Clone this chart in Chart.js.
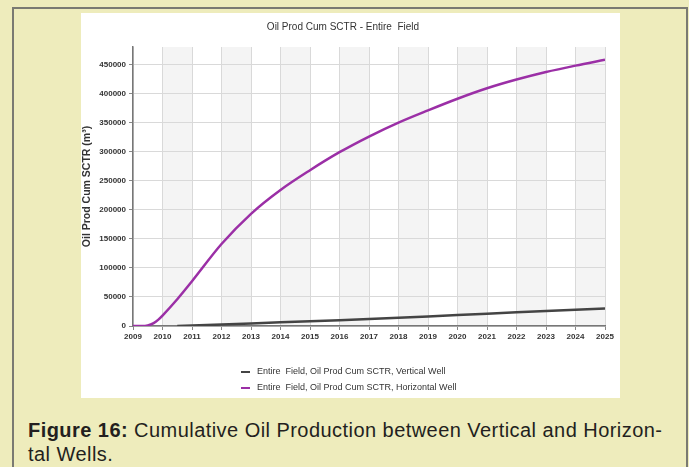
<!DOCTYPE html>
<html>
<head>
<meta charset="utf-8">
<script src="https://cdn.jsdelivr.net/npm/chart.js@4"></script>
<style>
  html, body { margin: 0; padding: 0; }
  body { width: 689px; height: 467px; background: #eeecbc; position: relative; overflow: hidden; font-family: "Liberation Sans", Arial, sans-serif; }
  #frame { position: absolute; left: 12px; top: 7px; width: 672px; height: 480px; border: 2px solid #7a7a72; border-bottom: none; }
  #panel { position: absolute; left: 81px; top: 13px; width: 539px; height: 385px; background: #fff; }
  #legend { position: absolute; left: 160px; top: 350px; font-family: "Liberation Sans Narrow", "Liberation Sans", Arial, sans-serif; font-size: 9px; color: #333; }
  #legend div { height: 16px; line-height: 16px; white-space: nowrap; }
  #legend span { display: inline-block; width: 9px; height: 2px; vertical-align: middle; margin-right: 7px; }
  #caption { position: absolute; left: 28px; top: 418px; font-size: 20px; line-height: 24px; letter-spacing: 0.45px; color: #231f20; white-space: nowrap; }
</style>
</head>
<body>
<div id="frame"></div>
<div id="panel">
  <canvas id="myChart"></canvas>
  <div id="legend">
    <div><span style="background:#444"></span>Entire&nbsp; Field, Oil Prod Cum SCTR, Vertical Well</div>
    <div><span style="background:#9b2fa6"></span>Entire&nbsp; Field, Oil Prod Cum SCTR, Horizontal Well</div>
  </div>
</div>
<div id="caption"><b>Figure 16:</b> Cumulative Oil Production between Vertical and Horizon-<br>tal Wells.</div>
<script>
const years = [2009, 2009.3, 2009.5, 2009.7, 2009.85, 2010, 2010.5, 2011, 2012, 2013, 2014, 2015, 2016, 2017, 2018, 2019, 2020, 2021, 2022, 2023, 2024, 2025];
const horizontalWell = [0, 0, 1000, 5000, 10500, 18000, 46000, 77000, 141000, 193000, 234000, 268000, 299000, 326000, 350000, 371000, 391000, 409000, 424000, 437000, 448000, 458000];
const verticalYears = [2010.5, 2011, 2012, 2013, 2014, 2015, 2016, 2017, 2018, 2019, 2020, 2021, 2022, 2023, 2024, 2025];
const verticalWell = [0, 800, 2500, 4500, 6500, 8300, 10000, 12000, 14000, 16500, 19000, 21000, 23500, 26000, 28000, 30000];
const yTicks = [0, 50000, 100000, 150000, 200000, 250000, 300000, 350000, 400000, 450000];

const labels = ["Entire  Field, Oil Prod Cum SCTR, Vertical Well", "Entire  Field, Oil Prod Cum SCTR, Horizontal Well"];

const data = {
  datasets: [
    {
      label: labels[0],
      borderColor: "#444444",
      borderWidth: 2.5,
      pointRadius: 0,
      data: verticalYears.map((x, i) => ({ x: x, y: verticalWell[i] })),
    },
    {
      label: labels[1],
      borderColor: "#9b2fa6",
      borderWidth: 2.5,
      pointRadius: 0,
      cubicInterpolationMode: "monotone",
      data: years.map((x, i) => ({ x: x, y: horizontalWell[i] })),
    },
  ],
};

// light grey bands behind every other year column
const bands = {
  id: "bands",
  beforeDraw(chart) {
    const ctx = chart.ctx;
    const x = chart.scales.x;
    const area = chart.chartArea;
    ctx.save();
    ctx.fillStyle = "#f4f4f4";
    for (let yr = 2010; yr < 2025; yr += 2) {
      const a = x.getPixelForValue(yr);
      const b = x.getPixelForValue(yr + 1);
      ctx.fillRect(a, area.top, b - a, area.bottom - area.top);
    }
    ctx.restore();
  },
};

const tickFont = { family: "Arial", size: 8, weight: "bold" };

const config = {
  type: "line",
  data: data,
  plugins: [bands],
  options: {
    responsive: true,
    maintainAspectRatio: false,
    animation: false,
    layout: { padding: { top: 0, right: 15, bottom: 52, left: 0 } },
    plugins: {
      legend: { display: false },
      tooltip: { enabled: false },
      title: {
        display: true,
        text: "Oil Prod Cum SCTR - Entire  Field",
        color: "#333",
        font: { family: "'Liberation Sans Narrow', 'Liberation Sans', Arial", size: 10, weight: "normal" },
        padding: { top: 8, bottom: 14 },
      },
    },
    scales: {
      x: {
        type: "linear",
        min: 2009,
        max: 2025,
        ticks: { stepSize: 1, color: "#333", font: tickFont, padding: 2, callback: (v) => String(v) },
        grid: { color: "#d9d9d9", tickLength: 4, tickColor: "#888" },
        border: { color: "#777", width: 1.5 },
        afterFit(scale) { scale.height = 20; },
      },
      y: {
        min: 0,
        max: 480000,
        ticks: { color: "#333", font: tickFont, padding: 3, autoSkip: false, callback: (v) => String(v) },
        afterBuildTicks(scale) { scale.ticks = yTicks.map((v) => ({ value: v })); },
        grid: { color: "#d9d9d9", tickLength: 4, tickColor: "#888" },
        border: { color: "#777", width: 1.5 },
        title: {
          display: true,
          text: "Oil Prod Cum SCTR (m³)",
          color: "#333",
          font: { family: "Arial", size: 10.5, weight: "bold" },
          padding: { top: 0, bottom: 2 },
        },
        afterFit(scale) { scale.width = 52; },
      },
    },
  },
};
const myChart = new Chart(document.getElementById("myChart"), config);
</script>
</body>
</html>
